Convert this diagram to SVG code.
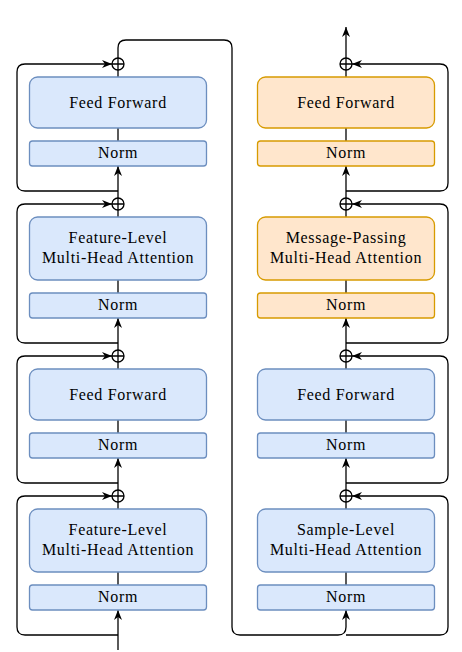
<svg xmlns="http://www.w3.org/2000/svg" width="462" height="652" viewBox="0 0 462 652">
<defs>
<marker id="arr" viewBox="0 0 10 8" refX="10" refY="4" markerWidth="10" markerHeight="8" markerUnits="userSpaceOnUse" orient="auto">
<path d="M0,0 L10,4 L0,8 L3,4 Z" fill="#000"/>
</marker>
<style>
.blue{fill:#dae8fc;stroke:#6c8ebf;stroke-width:1.3}
.orange{fill:#ffe6cc;stroke:#d79b00;stroke-width:1.3}
.t{font-family:'Liberation Serif','DejaVu Serif',serif;font-size:16px;letter-spacing:0.7px;text-anchor:middle;fill:#000}
.c{fill:none;stroke:#000;stroke-width:1.3}
.a{marker-end:url(#arr)}
.op circle{fill:#fff;stroke:#000;stroke-width:1.3}
.op path{stroke:#000;stroke-width:1.3;fill:none}
</style>
</defs>
<rect width="462" height="652" fill="#fff"/>
<g id="connectors">
<path class="c a" d="M118,650 L118,610"/>
<path class="c" d="M118,585 L118,572"/>
<path class="c" d="M118,509 L118,502"/>
<path class="c a" d="M118,490 L118,458"/>
<path class="c a" d="M118,635 L25,635 Q17,635 17,627 L17,504 Q17,496 25,496 L112,496"/>
<path class="c" d="M118,433 L118,420"/>
<path class="c" d="M118,369 L118,362"/>
<path class="c a" d="M118,350 L118,318"/>
<path class="c a" d="M118,483 L25,483 Q17,483 17,475 L17,364 Q17,356 25,356 L112,356"/>
<path class="c" d="M118,293 L118,280"/>
<path class="c" d="M118,217 L118,210"/>
<path class="c a" d="M118,198 L118,166"/>
<path class="c a" d="M118,343 L25,343 Q17,343 17,335 L17,212 Q17,204 25,204 L112,204"/>
<path class="c" d="M118,141 L118,128"/>
<path class="c" d="M118,77 L118,70"/>
<path class="c a" d="M118,191 L25,191 Q17,191 17,183 L17,72 Q17,64 25,64 L112,64"/>
<path class="c a" d="M118,58 L118,48 Q118,40 126,40 L224,40 Q232,40 232,48 L232,627 Q232,635 240,635 L338,635 Q346,635 346,627 L346,610"/>
<path class="c" d="M346,585 L346,572"/>
<path class="c" d="M346,509 L346,502"/>
<path class="c a" d="M346,490 L346,458"/>
<path class="c a" d="M346,635 L440,635 Q448,635 448,627 L448,504 Q448,496 440,496 L352,496"/>
<path class="c" d="M346,433 L346,420"/>
<path class="c" d="M346,369 L346,362"/>
<path class="c a" d="M346,350 L346,318"/>
<path class="c a" d="M346,483 L440,483 Q448,483 448,475 L448,364 Q448,356 440,356 L352,356"/>
<path class="c" d="M346,293 L346,280"/>
<path class="c" d="M346,217 L346,210"/>
<path class="c a" d="M346,198 L346,166"/>
<path class="c a" d="M346,343 L440,343 Q448,343 448,335 L448,212 Q448,204 440,204 L352,204"/>
<path class="c" d="M346,141 L346,128"/>
<path class="c" d="M346,77 L346,70"/>
<path class="c a" d="M346,191 L440,191 Q448,191 448,183 L448,72 Q448,64 440,64 L352,64"/>
<path class="c a" d="M346,58 L346,27"/>
</g>
<g id="L-norm1"><rect class="blue" x="29.5" y="585" width="177" height="25" rx="3"/><text class="t" x="118" y="602">Norm</text></g>
<g id="L-attn1"><rect class="blue" x="29.5" y="509" width="177" height="63" rx="8"/><text class="t" x="118" y="535">Feature-Level</text><text class="t" x="118" y="554.5">Multi-Head Attention</text></g>
<g id="L-add1" class="op"><circle cx="118" cy="496" r="6"/><path d="M112,496 L124,496 M118,490 L118,502"/></g>
<g id="L-norm2"><rect class="blue" x="29.5" y="433" width="177" height="25" rx="3"/><text class="t" x="118" y="450">Norm</text></g>
<g id="L-ff1"><rect class="blue" x="29.5" y="369" width="177" height="51" rx="8"/><text class="t" x="118" y="399.5">Feed Forward</text></g>
<g id="L-add2" class="op"><circle cx="118" cy="356" r="6"/><path d="M112,356 L124,356 M118,350 L118,362"/></g>
<g id="L-norm3"><rect class="blue" x="29.5" y="293" width="177" height="25" rx="3"/><text class="t" x="118" y="310">Norm</text></g>
<g id="L-attn2"><rect class="blue" x="29.5" y="217" width="177" height="63" rx="8"/><text class="t" x="118" y="243">Feature-Level</text><text class="t" x="118" y="262.5">Multi-Head Attention</text></g>
<g id="L-add3" class="op"><circle cx="118" cy="204" r="6"/><path d="M112,204 L124,204 M118,198 L118,210"/></g>
<g id="L-norm4"><rect class="blue" x="29.5" y="141" width="177" height="25" rx="3"/><text class="t" x="118" y="158">Norm</text></g>
<g id="L-ff2"><rect class="blue" x="29.5" y="77" width="177" height="51" rx="8"/><text class="t" x="118" y="107.5">Feed Forward</text></g>
<g id="L-add4" class="op"><circle cx="118" cy="64" r="6"/><path d="M112,64 L124,64 M118,58 L118,70"/></g>
<g id="R-norm1"><rect class="blue" x="257.5" y="585" width="177" height="25" rx="3"/><text class="t" x="346" y="602">Norm</text></g>
<g id="R-attn1"><rect class="blue" x="257.5" y="509" width="177" height="63" rx="8"/><text class="t" x="346" y="535">Sample-Level</text><text class="t" x="346" y="554.5">Multi-Head Attention</text></g>
<g id="R-add1" class="op"><circle cx="346" cy="496" r="6"/><path d="M340,496 L352,496 M346,490 L346,502"/></g>
<g id="R-norm2"><rect class="blue" x="257.5" y="433" width="177" height="25" rx="3"/><text class="t" x="346" y="450">Norm</text></g>
<g id="R-ff1"><rect class="blue" x="257.5" y="369" width="177" height="51" rx="8"/><text class="t" x="346" y="399.5">Feed Forward</text></g>
<g id="R-add2" class="op"><circle cx="346" cy="356" r="6"/><path d="M340,356 L352,356 M346,350 L346,362"/></g>
<g id="R-norm3"><rect class="orange" x="257.5" y="293" width="177" height="25" rx="3"/><text class="t" x="346" y="310">Norm</text></g>
<g id="R-attn2"><rect class="orange" x="257.5" y="217" width="177" height="63" rx="8"/><text class="t" x="346" y="243">Message-Passing</text><text class="t" x="346" y="262.5">Multi-Head Attention</text></g>
<g id="R-add3" class="op"><circle cx="346" cy="204" r="6"/><path d="M340,204 L352,204 M346,198 L346,210"/></g>
<g id="R-norm4"><rect class="orange" x="257.5" y="141" width="177" height="25" rx="3"/><text class="t" x="346" y="158">Norm</text></g>
<g id="R-ff2"><rect class="orange" x="257.5" y="77" width="177" height="51" rx="8"/><text class="t" x="346" y="107.5">Feed Forward</text></g>
<g id="R-add4" class="op"><circle cx="346" cy="64" r="6"/><path d="M340,64 L352,64 M346,58 L346,70"/></g>
</svg>
